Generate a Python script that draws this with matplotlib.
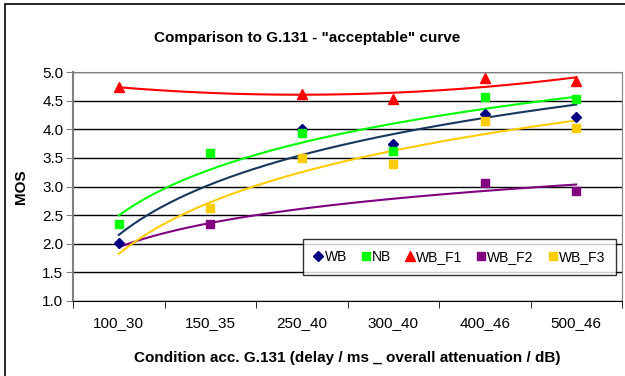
import numpy as np
import matplotlib
matplotlib.use("Agg")
import matplotlib.pyplot as plt
from matplotlib.patches import Rectangle

plt.rcParams['font.family'] = ['Liberation Sans', 'DejaVu Sans']

# ---------------------------------------------------------
# Data
# ---------------------------------------------------------
categories = ['100_30', '150_35', '250_40', '300_40', '400_46', '500_46']
nan = np.nan
wb    = [2.01, nan, 4.00, 3.75, 4.27, 4.22]
nb    = [2.34, 3.58, 3.94, 3.62, 4.57, 4.53]
wb_f1 = [4.74, nan, 4.62, 4.52, 4.89, 4.85]
wb_f2 = [nan, 2.34, nan, nan, 3.06, 2.92]
wb_f3 = [nan, 2.62, 3.49, 3.40, 4.14, 4.02]

series_names = ['WB', 'NB', 'WB_F1', 'WB_F2', 'WB_F3']
series_values = [wb, nb, wb_f1, wb_f2, wb_f3]
# Excel style trendline per series
trend_kind = ['log', 'log', 'poly2', 'log', 'log']

marker_colors = ['#000080', '#00FF00', '#FF0000', '#800080', '#FFCC00']
line_colors = ['#17375E', '#00FF00', '#FF0000', '#800080', '#FFCC00']
markers = ['D', 's', '^', 's', 's']
msizes = [5.5, 6, 7, 6, 6]


def trendline(x, y, kind, xs):
    ok = ~np.isnan(y)
    if kind == 'log':
        b, a = np.polyfit(np.log(x[ok]), y[ok], 1)
        return a + b * np.log(xs)
    coef = np.polyfit(x[ok], y[ok], 2)
    return np.polyval(coef, xs)


fig = plt.figure(figsize=(6.25, 3.76), dpi=100)
ax = fig.add_axes([73 / 625, 1 - 301 / 376, 549 / 625, 229 / 376])

x = np.arange(1, len(categories) + 1, dtype=float)
xs = np.linspace(1, len(categories), 200)

for name, vals, kind, mc, lc, m, ms in zip(series_names, series_values, trend_kind,
                                           marker_colors, line_colors, markers, msizes):
    y = np.array(vals, dtype=float)
    ax.plot(xs - 1, trendline(x, y, kind, xs), color=lc, lw=1.5, zorder=3)
    ax.plot(x - 1, y, linestyle='none', marker=m, markersize=ms, color=mc,
            markeredgecolor=mc, label=name, zorder=4)

ax.set_xlim(-0.5, len(categories) - 0.5)
ax.set_ylim(1.0, 5.0)
ax.set_yticks(np.arange(1.0, 5.01, 0.5))
ax.set_yticklabels([f'{v:.1f}' for v in np.arange(1.0, 5.01, 0.5)], fontsize=11)
ax.set_xticks(np.arange(len(categories)))
ax.set_xticklabels(categories, fontsize=11)
ax.set_xticks(np.arange(len(categories) + 1) - 0.5, minor=True)
ax.tick_params(axis='x', which='major', length=0, pad=11)
ax.tick_params(axis='x', which='minor', length=5, color='black', direction='out')
ax.tick_params(axis='y', length=5, color='#808080', direction='out', pad=2)

ax.grid(axis='y', color='black', lw=1)
ax.set_axisbelow(True)
for side in ['top', 'right']:
    ax.spines[side].set_color('#808080')
ax.spines['left'].set_color('#808080')
ax.spines['left'].set_linewidth(1.5)
ax.spines['bottom'].set_color('black')

ax.set_ylabel('MOS', fontsize=11, fontweight='bold', labelpad=10)
ax.set_xlabel('Condition acc. G.131 (delay / ms _ overall attenuation / dB)',
              fontsize=11, fontweight='bold', labelpad=15)
fig.text(307 / 625, 1 - 38 / 376, 'Comparison to G.131 - "acceptable" curve',
         ha='center', va='center', fontsize=11, fontweight='bold')

leg = ax.legend(loc='upper left', bbox_to_anchor=((303 - 73) / 549, (301 - 239) / 229),
                ncol=5, fontsize=10, frameon=True, fancybox=False, edgecolor='black',
                handlelength=0.6, handletextpad=0.15, columnspacing=1.05,
                borderpad=0.8, borderaxespad=0)
leg.get_frame().set_linewidth(1.0)
leg.set_zorder(5)

# outer chart border
fig.patches.append(Rectangle((5 / 625, -0.1), 1.2, 1 - 4 / 376 + 0.1,
                             transform=fig.transFigure, fill=False,
                             edgecolor='black', lw=1.2))

fig.savefig('out.png', dpi=100)
